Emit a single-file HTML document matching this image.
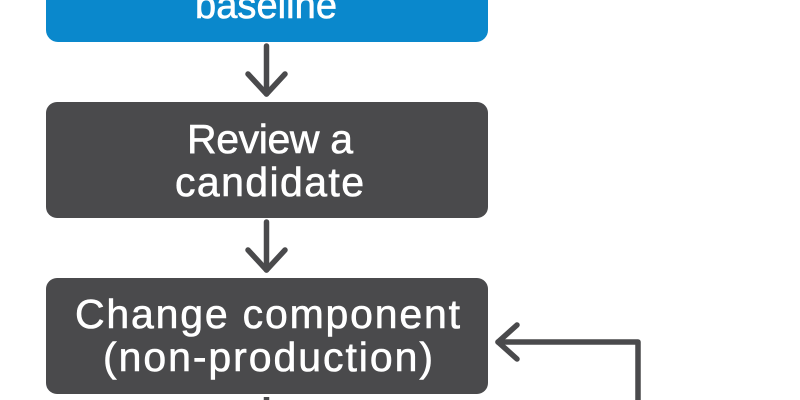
<!DOCTYPE html>
<html>
<head>
<meta charset="utf-8">
<style>
  html, body { margin: 0; padding: 0; background: #ffffff; }
  body { width: 800px; height: 400px; overflow: hidden; }
  svg { display: block; }
  text { font-family: "Liberation Sans", "DejaVu Sans", sans-serif; fill: #ffffff; font-size: 41px; stroke: #ffffff; stroke-width: 0.6px; }
</style>
</head>
<body>
<svg width="800" height="400" viewBox="0 0 800 400" xmlns="http://www.w3.org/2000/svg">
  <!-- Blue box (top, cut off) -->
  <rect x="46" y="-60" width="442" height="102" rx="12" ry="12" fill="#0a88cc"/>
  <text x="266" y="18" text-anchor="middle" style="font-size:38px" textLength="142" lengthAdjust="spacing">baseline</text>

  <!-- Arrow 1 -->
  <g stroke="#4a4a4c" stroke-width="5.5" fill="none" stroke-linecap="round" stroke-linejoin="round">
    <line x1="266.5" y1="46" x2="266.5" y2="94"/>
    <polyline points="248,74 266.5,94 285,74"/>
  </g>

  <!-- Box 2 -->
  <rect x="46" y="102" width="442" height="116" rx="11" ry="11" fill="#4a4a4c"/>
  <text x="270" y="153" text-anchor="middle" textLength="166" lengthAdjust="spacing">Review a</text>
  <text x="269.5" y="196" text-anchor="middle" textLength="189" lengthAdjust="spacing">candidate</text>

  <!-- Arrow 2 -->
  <g stroke="#4a4a4c" stroke-width="5.5" fill="none" stroke-linecap="round" stroke-linejoin="round">
    <line x1="266.5" y1="222" x2="266.5" y2="270"/>
    <polyline points="248,250 266.5,270 285,250"/>
  </g>

  <!-- Box 3 -->
  <rect x="46" y="278" width="442" height="116" rx="11" ry="11" fill="#4a4a4c"/>
  <text x="267.5" y="328" text-anchor="middle" textLength="385" lengthAdjust="spacing">Change component</text>
  <text x="268" y="371" text-anchor="middle" textLength="330" lengthAdjust="spacing">(non-production)</text>

  <!-- Line below box 3 -->
  <line x1="266.5" y1="397" x2="266.5" y2="404" stroke="#4a4a4c" stroke-width="5.5"/>

  <!-- Feedback arrow -->
  <g stroke="#4a4a4c" stroke-width="5.5" fill="none" stroke-linecap="round" stroke-linejoin="round">
    <polyline points="638,404 638,342 498,342"/>
    <polyline points="517,325 498,342 517,359"/>
  </g>
</svg>
</body>
</html>
